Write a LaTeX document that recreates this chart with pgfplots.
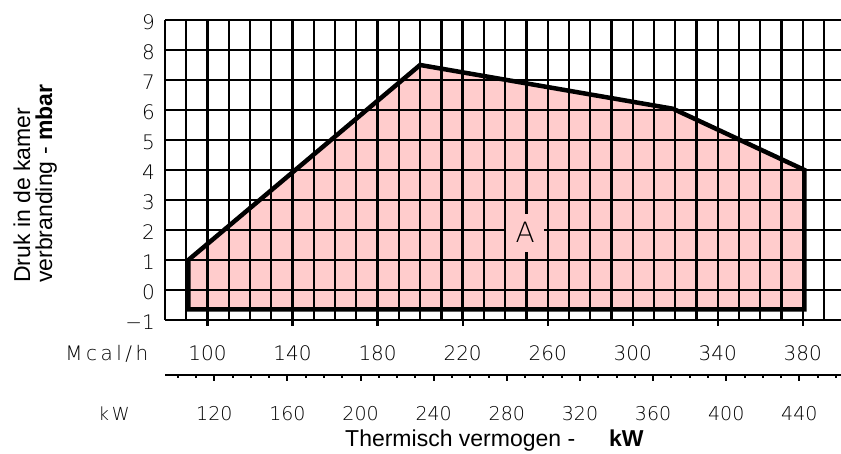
\documentclass[border=0pt]{standalone}
\usepackage{pgfplots}
\pgfplotsset{compat=1.18}
\usepackage{fontspec}
\setmainfont{Liberation Sans}
\newfontfamily\thin{DejaVu Sans ExtraLight}
\definecolor{pinkfill}{RGB}{255,204,204}

\begin{document}
\begin{tikzpicture}[x=1bp,y=1bp]
\path[use as bounding box] (0,0) rectangle (841,454);
\begin{axis}[at={(165bp,134bp)}, anchor=south west, scale only axis,
  width=676bp, height=300bp,
  xmin=80, xmax=398, ymin=-1, ymax=9,
  axis line style={draw=none},
  axis on top,
  xtick={80,90,...,390}, xticklabels={},
  extra x ticks={100,140,...,380},
  extra x tick labels={100,140,180,220,260,300,340,380},
  extra x tick style={grid=none, tick align=outside, major tick length=6bp,
    tick style={black, line width=2.2bp}},
  ytick={-1,0,...,9}, yticklabels={−1,0,1,2,3,4,5,6,7,8,9},
  grid=major,
  major grid style={black, line width=2.3bp},
  xtick pos=bottom, ytick pos=left,
  major tick length=0pt,
  ytick style={draw=none},
  ticklabel style={font=\thin\fontsize{20bp}{20bp}\selectfont},
  xticklabel style={anchor=base, yshift=-34.7bp},
  yticklabel style={anchor=east, inner sep=0pt, xshift=-10bp, yshift=-2.5bp},
]
\addplot[draw=black, fill=pinkfill, line width=4.5bp, line join=miter]
  coordinates {(91,-0.645) (91,1) (200,7.5) (319,6.04) (380.8,4) (380.8,-0.645)} -- cycle;
\coordinate (Apos) at (axis cs:249.4,1.91);
\end{axis}
\node[fill=pinkfill, minimum width=38bp, minimum height=38bp, inner sep=0pt,
  font=\thin\fontsize{28bp}{28bp}\selectfont] at (Apos) {A};

\begin{axis}[at={(165bp,79bp)}, anchor=south west, scale only axis,
  width=676bp, height=20bp,
  xmin=93.023, xmax=462.79, ymin=0, ymax=1,
  axis x line*=bottom, axis y line=none,
  x axis line style={line width=2bp, -},
  xtick={120,160,...,440}, xticklabels={120,160,200,240,280,320,360,400,440},
  minor xtick={100,110,...,460},
  tick align=outside, major tick length=6bp, minor tick length=3bp,
  xtick style={black, line width=2bp},
  minor tick style={black, line width=2bp},
  ticklabel style={font=\thin\fontsize{19bp}{19bp}\selectfont},
  xticklabel style={anchor=base, yshift=-39.7bp},
]
\addplot[draw=none] coordinates {(100,0.5)};
\end{axis}

\node[anchor=base east, inner sep=0pt, font=\thin\fontsize{20bp}{20bp}\selectfont]
  at (148.5,93.5) {M\hspace{3.5bp}c\hspace{3.5bp}a\hspace{3.5bp}l\hspace{3.5bp}/\hspace{3.5bp}h};
\node[anchor=base west, inner sep=0pt, font=\thin\fontsize{18bp}{18bp}\selectfont]
  at (98.3,33.5) {k\hspace{3bp}W};
\node[anchor=base west, inner sep=0pt, font=\fontsize{23bp}{23bp}\selectfont]
  at (345,7.3) {Thermisch vermogen -};
\node[anchor=base west, inner sep=0pt, font=\bfseries\fontsize{23bp}{23bp}\selectfont]
  at (609,7.3) {kW};
\node[rotate=90, anchor=base west, inner sep=0pt, font=\fontsize{23bp}{23bp}\selectfont]
  at (30,171) {Druk in de kamer};
\node[rotate=90, anchor=base west, inner sep=0pt, font=\fontsize{23bp}{23bp}\selectfont]
  at (52,171) {verbranding - \textbf{mbar}};
\end{tikzpicture}
\end{document}
